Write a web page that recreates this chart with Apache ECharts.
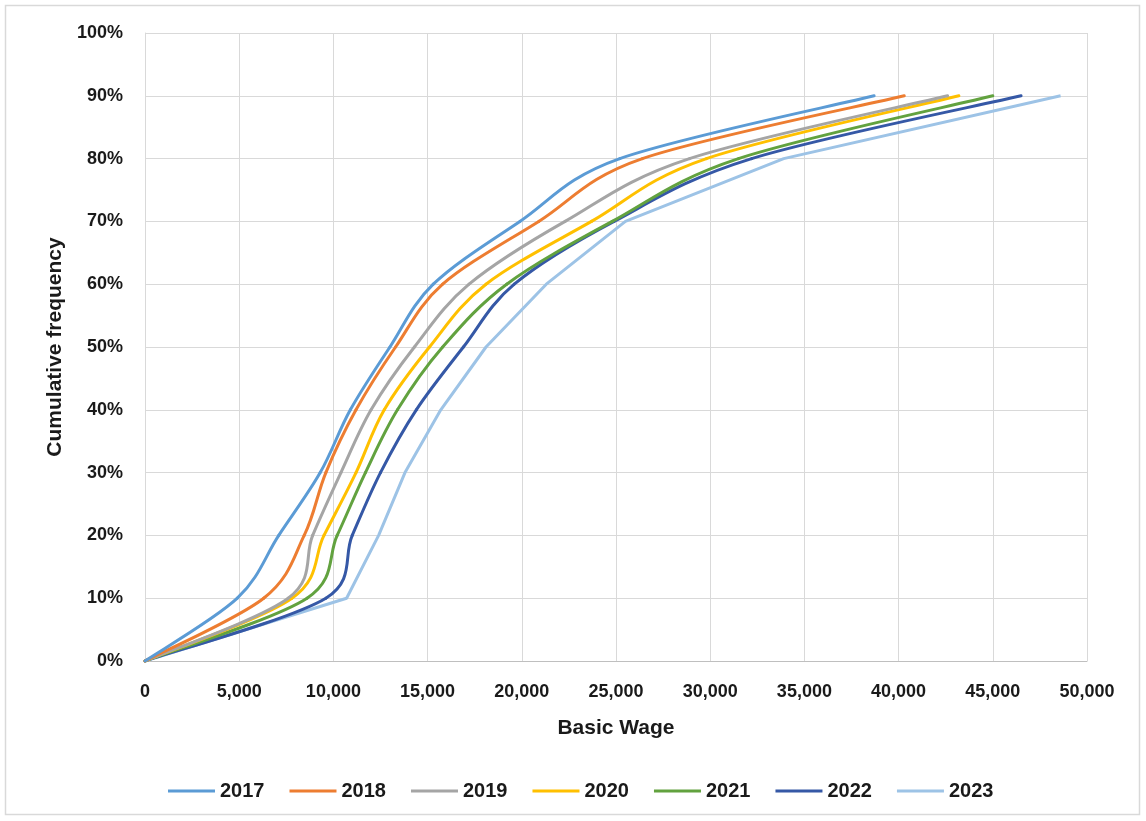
<!DOCTYPE html>
<html>
<head>
<meta charset="utf-8">
<script src="https://cdn.jsdelivr.net/npm/echarts@6/dist/echarts.min.js"></script>
<style>html,body{margin:0;padding:0;background:#fff}#c{width:1146px;height:821px}</style>
</head>
<body>
<div id="c"></div>
<script>
const freq = [0, 10, 20, 30, 40, 50, 60, 70, 80, 90];
const years = ['2017', '2018', '2019', '2020', '2021', '2022', '2023'];
const w2017 = [0, 4900, 7100, 9300, 10900, 13000, 15300, 19900, 25200, 38700];
const w2018 = [0, 6300, 8450, 9600, 11200, 13300, 15800, 20900, 26400, 40300];
const w2019 = [0, 7600, 8900, 10400, 12000, 14300, 17200, 22300, 28900, 42600];
const w2020 = [0, 7800, 9500, 11200, 12700, 15100, 18100, 23700, 29800, 43200];
const w2021 = [0, 8600, 10200, 11700, 13400, 15800, 19200, 24800, 31500, 45000];
const w2022 = [0, 9600, 11000, 12500, 14400, 16900, 19600, 24900, 32200, 46500];
const w2023 = [0, 10700, 12400, 13800, 15700, 18100, 21300, 25500, 33900, 48600];
const xTicks = [0, 5000, 10000, 15000, 20000, 25000, 30000, 35000, 40000, 45000, 50000];
const yTicks = [0, 10, 20, 30, 40, 50, 60, 70, 80, 90, 100];

const wages = [w2017, w2018, w2019, w2020, w2021, w2022, w2023];
const colors = ['#5B9BD5', '#ED7D31', '#A5A5A5', '#FFC000', '#62A23F', '#3558A6', '#9DC3E6'];
const smoothed = [true, true, true, true, true, true, false];

const font = "'Liberation Sans', Arial, sans-serif";
const txt = '#1a1a1a';

// Excel-like smoothing: Catmull-Rom handles (1/6), each limited to half the segment length
function makeRenderer(W, color) {
  const n = W.length;
  const cl = j => Math.max(0, Math.min(n - 1, j));
  const handle = (a, b, segLen) => {
    let hx = (b[0] - a[0]) / 6, hy = (b[1] - a[1]) / 6;
    const len = Math.hypot(hx, hy), lim = segLen / 2;
    if (len > lim && len > 0) { hx *= lim / len; hy *= lim / len; }
    return [hx, hy];
  };
  return function (params, api) {
    const i = params.dataIndex;
    if (i >= n - 1) return null;
    const P = j => api.coord([W[cl(j)], freq[cl(j)]]);
    const p0 = P(i - 1), p1 = P(i), p2 = P(i + 1), p3 = P(i + 2);
    const seg = Math.hypot(p2[0] - p1[0], p2[1] - p1[1]);
    const h1 = handle(p0, p2, seg), h2 = handle(p1, p3, seg);
    return {
      type: 'bezierCurve',
      shape: {
        x1: p1[0], y1: p1[1], x2: p2[0], y2: p2[1],
        cpx1: p1[0] + h1[0], cpy1: p1[1] + h1[1],
        cpx2: p2[0] - h2[0], cpy2: p2[1] - h2[1]
      },
      style: {stroke: color, lineWidth: 3, fill: null, lineCap: 'round'},
      silent: true
    };
  };
}

const series = years.map((y, i) => {
  const data = wages[i].map((w, j) => [w, freq[j]]);
  if (smoothed[i]) {
    return {
      name: y, type: 'custom', coordinateSystem: 'cartesian2d',
      renderItem: makeRenderer(wages[i], colors[i]),
      encode: {x: 0, y: 1},
      itemStyle: {color: colors[i]},
      data: data, z: 2 + (6 - i)
    };
  }
  return {
    name: y, type: 'line', showSymbol: false, symbol: 'none', smooth: false,
    lineStyle: {width: 3, color: colors[i]},
    itemStyle: {color: colors[i]},
    data: data, z: 1
  };
});

const chart = echarts.init(document.getElementById('c'));
chart.setOption({
  animation: false,
  color: colors,
  graphic: [{
    type: 'rect', shape: {x: 5.5, y: 5.5, width: 1134, height: 809},
    style: {fill: 'none', stroke: '#D9D9D9', lineWidth: 1.5}, silent: true
  }],
  grid: {left: 145, right: 59, top: 33, bottom: 160, containLabel: false},
  xAxis: {
    type: 'value', min: xTicks[0], max: xTicks[xTicks.length - 1], interval: 5000,
    name: 'Basic Wage', nameLocation: 'middle', nameGap: 57,
    nameTextStyle: {fontFamily: font, fontWeight: 'bold', fontSize: 21, color: txt},
    axisLine: {show: true, lineStyle: {color: '#BFBFBF', width: 1}},
    axisTick: {show: false},
    splitLine: {show: true, lineStyle: {color: '#D9D9D9', width: 1}},
    axisLabel: {
      margin: 22, fontFamily: font, fontWeight: 'bold', fontSize: 18, color: txt,
      formatter: v => v.toLocaleString('en-US')
    }
  },
  yAxis: {
    type: 'value', min: yTicks[0], max: yTicks[yTicks.length - 1], interval: 10,
    name: 'Cumulative frequency', nameLocation: 'middle', nameGap: 77, nameRotate: 90,
    nameTextStyle: {fontFamily: font, fontWeight: 'bold', fontSize: 21, color: txt},
    axisLine: {show: true, lineStyle: {color: '#D9D9D9', width: 1}},
    axisTick: {show: false},
    splitLine: {show: true, lineStyle: {color: '#D9D9D9', width: 1}},
    axisLabel: {
      margin: 22, fontFamily: font, fontWeight: 'bold', fontSize: 18, color: txt,
      formatter: '{value}%'
    }
  },
  legend: {
    top: 776, left: 163, itemWidth: 47, itemHeight: 3, itemGap: 25,
    icon: 'rect',
    textStyle: {fontFamily: font, fontWeight: 'bold', fontSize: 20, color: txt},
    data: years
  },
  series: series
});
</script>
</body>
</html>
